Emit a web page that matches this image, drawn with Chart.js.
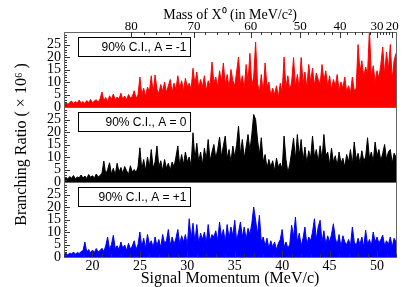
<!DOCTYPE html>
<html>
<head>
<meta charset="utf-8">
<script src="https://cdn.jsdelivr.net/npm/chart.js@4.4.1/dist/chart.umd.min.js"></script>
<style>
html, body { margin: 0; padding: 0; background: #fff; }
#wrap { width: 415px; height: 287px; }
</style>
</head>
<body>
<div id="wrap"><canvas id="chart" width="415" height="287"></canvas></div>
<script>
// Three stacked panels of branching-ratio limits vs signal momentum.

const P_MIN = 17, P_MAX = 52, P_STEP = 0.2;
const momentum = Array.from({ length: 176 }, (_, i) => +(P_MIN + i * P_STEP).toFixed(1));
const momentumTicks = [20, 25, 30, 35, 40, 45, 50];
const ratioTicks = [0, 5, 10, 15, 20, 25];

// A = -1 (top panel)
const ratioMinus = [
  1.2, 2.0, 1.0, 1.8, 2.4, 1.3, 2.2, 1.6, 2.8, 1.5,
  2.2, 1.4, 2.6, 1.8, 3.0, 1.7, 2.4, 2.9, 1.9, 3.2,
  6.0, 2.5, 3.8, 2.2, 4.5, 3.0, 5.2, 2.8, 4.0, 3.3,
  5.5, 3.0, 4.4, 2.9, 5.0, 3.6, 4.2, 6.5, 3.5, 4.8,
  12.0, 5.0, 7.5, 4.2, 8.0, 6.0, 12.5, 5.5, 12.8, 7.0,
  5.5, 9.0, 6.2, 10.0, 5.8, 8.5, 11.0, 6.0, 9.5, 7.0,
  12.5, 7.5, 10.5, 6.5, 11.5, 8.0, 9.5, 7.0, 15.5, 9.0,
  14.0, 7.5, 11.0, 8.0, 12.5, 6.5, 10.5, 8.5, 18.0, 9.5,
  12.0, 8.0, 14.5, 10.0, 17.6, 9.0, 13.0, 7.5, 15.0, 10.5,
  8.5, 14.0, 20.0, 9.0, 12.5, 7.0, 17.0, 10.0, 21.5, 8.5,
  12.0, 26.0, 9.5, 6.0, 13.0, 5.5, 17.6, 8.0, 10.0, 4.5,
  7.5, 5.0, 8.5, 4.0, 9.5, 6.0, 20.0, 7.5, 12.5, 6.5,
  10.0, 19.8, 8.0, 13.0, 7.0, 19.8, 9.5, 14.0, 7.5, 17.0,
  10.0, 15.5, 8.5, 13.6, 11.0, 9.0, 17.0, 10.5, 14.5, 8.0,
  12.5, 7.0, 11.0, 8.5, 13.0, 6.5, 10.0, 7.5, 12.0, 6.0,
  8.5, 5.5, 12.0, 6.5, 7.5, 25.0, 14.0, 18.5, 12.0, 16.0,
  13.0, 31.0, 12.0, 16.5, 10.0, 14.5, 11.5, 17.0, 24.0, 13.0,
  22.0, 15.0, 25.0, 11.0, 18.5, 21.5
];

// A = 0 (middle panel)
const ratioZero = [
  1.0, 1.8, 1.2, 2.2, 1.5, 2.6, 1.3, 2.0, 1.7, 2.8,
  1.6, 2.4, 1.4, 3.0, 1.9, 2.5, 1.6, 3.2, 2.0, 2.6,
  3.5, 8.4, 3.0, 5.0, 7.7, 3.2, 5.5, 2.8, 7.5, 4.0,
  5.8, 3.5, 6.2, 4.5, 3.0, 6.5, 4.0, 5.0, 3.8, 6.0,
  13.7, 5.0, 9.0, 4.5, 10.0, 6.0, 13.0, 5.5, 8.0, 14.4,
  6.0, 8.5, 4.5, 9.0, 5.5, 7.5, 4.8, 8.0, 6.0, 10.0,
  14.4, 6.5, 11.0, 7.0, 12.0, 8.0, 10.0, 6.5, 19.7, 9.0,
  15.5, 8.0, 12.0, 7.0, 13.5, 9.0, 17.0, 8.5, 12.0, 15.0,
  9.5, 13.0, 18.0, 10.0, 14.5, 18.4, 9.5, 13.0, 8.0, 14.4,
  10.0, 15.0, 22.4, 11.0, 17.0, 9.5, 14.0, 19.0, 12.5, 19.0,
  27.0, 25.0, 17.0, 11.0, 17.7, 8.0, 11.0, 5.5, 9.0, 6.0,
  8.5, 4.5, 9.5, 6.0, 7.5, 5.0, 18.4, 9.0, 3.7, 7.0,
  12.0, 17.5, 9.0, 19.0, 10.5, 17.0, 8.5, 14.0, 7.5, 12.5,
  9.5, 18.4, 10.0, 13.0, 8.0, 14.5, 9.0, 19.0, 10.5, 12.0,
  7.0, 13.5, 8.0, 10.5, 6.5, 12.0, 7.5, 9.5, 6.0, 11.0,
  8.0, 13.0, 7.0, 16.0, 9.0, 11.5, 7.5, 12.5, 8.5, 10.0,
  17.7, 9.5, 12.0, 8.0, 16.0, 10.5, 13.0, 8.5, 11.5, 15.0,
  9.0, 12.0, 13.0, 7.5, 11.5, 10.0
];

// A = +1 (bottom panel)
const ratioPlus = [
  1.0, 1.5, 0.8, 1.6, 1.2, 2.0, 1.1, 1.8, 1.4, 2.2,
  2.5, 6.0, 2.0, 3.0, 1.6, 2.8, 1.8, 3.4, 2.0, 2.6,
  3.5, 2.2, 4.5, 8.0, 3.0, 5.0, 8.7, 3.4, 4.5, 3.0,
  6.0, 3.5, 4.8, 2.6, 5.5, 3.2, 4.4, 6.5, 3.0, 5.0,
  10.0, 4.0, 7.5, 3.5, 9.0, 5.0, 6.5, 3.8, 8.0, 4.5,
  7.0, 3.8, 9.0, 5.5, 6.5, 11.0, 4.5, 8.0, 5.0, 7.5,
  11.0, 5.0, 8.5, 6.0, 9.0, 4.5, 15.3, 7.0, 13.5, 6.0,
  13.0, 5.5, 9.5, 7.0, 10.0, 5.5, 13.0, 6.5, 9.0, 8.0,
  10.5, 6.5, 14.0, 8.0, 11.0, 6.0, 13.0, 7.5, 12.0, 8.5,
  14.7, 6.5, 10.0, 14.0, 8.0, 12.0, 7.0, 11.5, 9.0, 13.5,
  20.0, 14.7, 9.0, 16.7, 6.0, 8.0, 4.5, 7.5, 3.5, 6.5,
  4.0, 6.0, 3.0, 5.5, 7.0, 11.0, 4.0, 6.0, 3.5, 5.0,
  12.7, 8.0, 16.0, 6.0, 9.5, 4.5, 7.5, 12.0, 5.0, 8.0,
  6.5, 10.0, 15.3, 7.0, 12.0, 14.7, 6.0, 10.5, 5.0, 8.5,
  6.0, 9.0, 13.3, 7.5, 5.0, 9.0, 4.0, 8.5, 6.0, 5.0,
  7.0, 4.5, 12.0, 6.0, 4.5, 7.5, 5.0, 8.0, 4.0, 10.7,
  5.0, 7.0, 4.5, 10.0, 6.0, 8.0, 5.5, 7.0, 8.7, 4.5,
  6.5, 5.0, 8.0, 4.0, 7.5, 6.0
];

// top axis: mass of X0 and the momentum where each label sits
const massLabels = [80, 70, 60, 50, 40, 30, 20];
const massAtMomentum = [24.1, 30.7, 36.7, 41.9, 46.1, 50.0, 51.6];

const panelLabels = ['90% C.I., A = -1', '90% C.I., A = 0', '90% C.I., A = +1'];
const PANELS = ['yTop', 'yMid', 'yBot'];
const COLORS = ['#ff0000', '#000000', '#0000ff'];

function toPoints(vals) {
    return vals.map((v, i) => ({ x: momentum[i], y: v }));
}

function panelAxis(withTitle) {
    return {
        type: 'linear',
        position: 'left',
        stack: 'panels',
        stackWeight: 1,
        min: 0,
        max: 30,
        afterFit: s => { s.width = 64; },
        afterBuildTicks: s => { s.ticks = ratioTicks.map(v => ({ value: v })); },
        grid: { display: false, drawTicks: false },
        border: { display: false },
        ticks: {
            padding: 3,
            autoSkip: false,
            color: '#000',
            font: { family: 'Liberation Serif', size: 14 }
        },
        title: withTitle ? {
            display: true,
            text: 'Branching Ratio ( \u00d7 10\u2076 )',
            color: '#000',
            font: { family: 'Liberation Serif', size: 16 },
            padding: { top: 12, bottom: 0 }
        } : { display: false }
    };
}

const frameTicks = {
    id: 'frameTicks',
    afterDatasetsDraw(chart) {
        const { ctx, chartArea: a, scales } = chart;
        const seg = (x1, y1, x2, y2) => {
            ctx.beginPath(); ctx.moveTo(x1, y1); ctx.lineTo(x2, y2); ctx.stroke();
        };
        ctx.save();
        ctx.lineWidth = 1;
        ctx.strokeStyle = '#333';

        PANELS.forEach((id, k) => {
            const s = scales[id];
            for (let v = 0; v < 30; v++) {
                const y = Math.round(s.getPixelForValue(v)) + 0.5;
                seg(a.left, y, a.left + (v % 5 === 0 ? 6 : 3), y);
            }
            ctx.strokeStyle = '#666';
            ctx.strokeRect(Math.round(a.left) + 0.5, Math.round(s.top) + 0.5,
                Math.round(a.right - a.left), Math.round(s.bottom - s.top));
            ctx.strokeStyle = '#333';

            // label box
            const bx = Math.round(a.left) + 14.5, by = Math.round(s.top) + 5.5;
            ctx.fillStyle = '#fff';
            ctx.fillRect(bx, by, 112, 19);
            ctx.strokeStyle = '#000';
            ctx.strokeRect(bx, by, 112, 19);
            ctx.fillStyle = '#000';
            ctx.font = '12px "Liberation Sans"';
            ctx.textAlign = 'right';
            ctx.textBaseline = 'middle';
            ctx.fillText(panelLabels[k], bx + 108, by + 10);
            ctx.strokeStyle = '#333';
        });

        const xb = scales.x;
        for (let v = P_MIN; v <= P_MAX; v++) {
            const x = Math.round(xb.getPixelForValue(v)) + 0.5;
            seg(x, a.bottom, x, a.bottom - (v % 5 === 0 ? 6 : 3));
        }

        // top axis: major ticks at labels, minor every 2 in mass
        for (let i = 0; i < massLabels.length; i++) {
            const x = Math.round(xb.getPixelForValue(massAtMomentum[i])) + 0.5;
            seg(x, a.top, x, a.top + 6);
            if (i < massLabels.length - 1) {
                const n = (massLabels[i] - massLabels[i + 1]) / 2;
                for (let j = 1; j < n; j++) {
                    const p = massAtMomentum[i] + (massAtMomentum[i + 1] - massAtMomentum[i]) * j / n;
                    const xm = Math.round(xb.getPixelForValue(p)) + 0.5;
                    seg(xm, a.top, xm, a.top + 3);
                }
            }
        }
        ctx.restore();
    }
};

new Chart(document.getElementById('chart'), {
    type: 'line',
    data: {
        datasets: [ratioMinus, ratioZero, ratioPlus].map((vals, k) => ({
            data: toPoints(vals),
            yAxisID: PANELS[k],
            borderColor: COLORS[k],
            backgroundColor: COLORS[k],
            borderWidth: 1,
            pointRadius: 0,
            tension: 0,
            fill: 'origin'
        }))
    },
    options: {
        responsive: false,
        animation: false,
        devicePixelRatio: 1,
        layout: { padding: { left: 0, right: 19, top: 0, bottom: 0 } },
        plugins: { legend: { display: false }, tooltip: { enabled: false } },
        scales: {
            x: {
                type: 'linear',
                position: 'bottom',
                min: P_MIN,
                max: P_MAX,
                afterFit: s => { s.height = 30; },
                afterBuildTicks: s => { s.ticks = momentumTicks.map(v => ({ value: v })); },
                grid: { display: false, drawTicks: false },
                border: { display: false },
                ticks: {
                    padding: 1,
                    autoSkip: false,
                    maxRotation: 0,
                    color: '#000',
                    font: { family: 'Liberation Serif', size: 14 }
                },
                title: {
                    display: true,
                    text: 'Signal Momentum (MeV/c)',
                    color: '#000',
                    font: { family: 'Liberation Serif', size: 16, lineHeight: 1 },
                    padding: { top: 0, bottom: 0 }
                }
            },
            x2: {
                type: 'linear',
                position: 'top',
                min: P_MIN,
                max: P_MAX,
                afterFit: s => { s.height = 32; },
                afterBuildTicks: s => { s.ticks = massAtMomentum.map(v => ({ value: v })); },
                grid: { display: false, drawTicks: false },
                border: { display: false },
                ticks: {
                    padding: -2,
                    autoSkip: false,
                    maxRotation: 0,
                    color: '#000',
                    font: { family: 'Liberation Serif', size: 13 },
                    callback: (v, i) => massLabels[i]
                },
                title: {
                    display: true,
                    text: 'Mass of X\u2070 (in MeV/c\u00b2)',
                    color: '#000',
                    font: { family: 'Liberation Serif', size: 14, lineHeight: 1 },
                    padding: { top: 8, bottom: 0 }
                }
            },
            yBot: panelAxis(false),
            yMid: panelAxis(true),
            yTop: panelAxis(false)
        }
    },
    plugins: [frameTicks]
});
</script>
</body>
</html>
